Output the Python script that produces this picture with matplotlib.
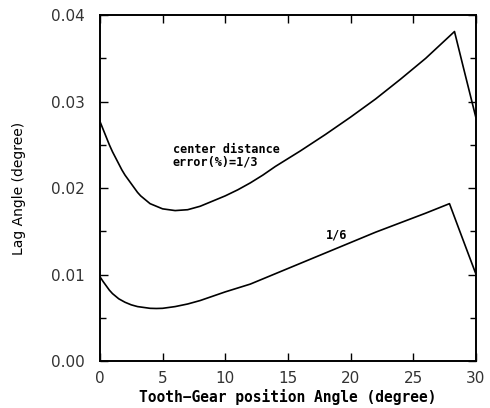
import matplotlib
matplotlib.use("Agg")
import matplotlib.pyplot as plt
from matplotlib.ticker import MultipleLocator

# position angle (degree) and lag angle (degree)
x_upper = [0, 0.25, 0.5, 0.75, 1.0, 1.25, 1.5, 1.75, 2.0, 2.25, 2.5, 2.75, 3.0,
           3.25, 3.5, 3.75, 4.0, 4.5, 5.0, 5.5, 6.0, 6.5, 7.0, 7.5, 8.0, 8.5,
           9.0, 9.5, 10.0, 11.0, 12.0, 13.0, 14.0, 16.0, 18.0, 20.0, 22.0,
           24.0, 26.0, 28.3, 29.0, 30.0]
lag_upper = [0.0277, 0.0268, 0.0259, 0.0250, 0.0242, 0.0235, 0.0228, 0.0221,
             0.0215, 0.0210, 0.0205, 0.0200, 0.0195, 0.0191, 0.0188, 0.0185,
             0.0182, 0.0179, 0.0176, 0.0175, 0.0174, 0.01745, 0.0175, 0.0177,
             0.0179, 0.0182, 0.0185, 0.0188, 0.0191, 0.0198, 0.0206, 0.0215,
             0.0225, 0.0243, 0.0262, 0.0282, 0.0303, 0.0326, 0.0350, 0.0381,
             0.0340, 0.0282]

x_lower = [0, 0.25, 0.5, 0.75, 1.0, 1.25, 1.5, 1.75, 2.0, 2.25, 2.5, 2.75, 3.0,
           3.25, 3.5, 4.0, 4.5, 5.0, 5.5, 6.0, 6.5, 7.0, 7.5, 8.0, 8.5, 9.0,
           9.5, 10.0, 11.0, 12.0, 13.0, 14.0, 16.0, 18.0, 20.0, 22.0, 24.0,
           26.0, 27.9, 28.7, 29.4, 30.0]
lag_lower = [0.00975, 0.0092, 0.0087, 0.0082, 0.0078, 0.0075, 0.0072, 0.0070,
             0.0068, 0.00665, 0.0065, 0.0064, 0.0063, 0.00625, 0.0062, 0.0061,
             0.00608, 0.0061, 0.0062, 0.0063, 0.00645, 0.0066, 0.0068, 0.0070,
             0.00725, 0.0075, 0.00775, 0.0080, 0.00845, 0.0089, 0.0095, 0.0101,
             0.0113, 0.0125, 0.0137, 0.0149, 0.0160, 0.0171, 0.0182, 0.0151,
             0.0124, 0.0101]

fig = plt.figure(figsize=(4.9, 4.08), dpi=100)
ax = fig.add_axes([0.204, 0.115, 0.767, 0.848])

ax.plot(x_upper, lag_upper, color="black", lw=1.2)
ax.plot(x_lower, lag_lower, color="black", lw=1.2)

mono = dict(family="DejaVu Sans Mono", fontweight="bold", fontsize=8.5)
ax.text(5.8, 0.0245, "center distance", va="center", ha="left", **mono)
ax.text(5.8, 0.0230, "error(%)=1/3", va="center", ha="left", **mono)
ax.text(18.0, 0.0146, "1/6", va="center", ha="left", **mono)

ax.set_xlim(0, 30)
ax.set_ylim(0, 0.04)
ax.xaxis.set_major_locator(MultipleLocator(5))
ax.yaxis.set_major_locator(MultipleLocator(0.01))
ax.yaxis.set_minor_locator(MultipleLocator(0.005))
ax.set_yticks([0, 0.01, 0.02, 0.03, 0.04])
ax.set_yticklabels(["0.00", "0.01", "0.02", "0.03", "0.04"])

ax.tick_params(which="both", direction="in", top=True, right=True,
               labelsize=11, width=1.0, colors="black", labelcolor="#333333")
ax.tick_params(which="major", length=6)
ax.tick_params(which="minor", length=4)
ax.tick_params(axis="y", pad=11)
ax.tick_params(axis="x", pad=7)
for s in ax.spines.values():
    s.set_linewidth(1.4)

ax.set_xlabel("Tooth\u2212Gear position Angle (degree)", family="DejaVu Sans Mono",
              fontweight="bold", fontsize=10.5, labelpad=2)
ax.set_ylabel("Lag Angle (degree)", fontsize=10, labelpad=18)

fig.savefig("out.png", dpi=100)
